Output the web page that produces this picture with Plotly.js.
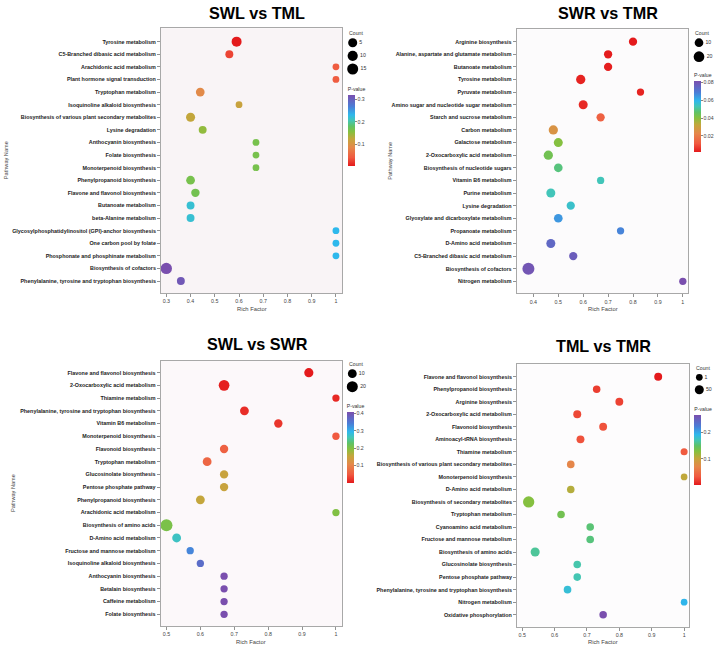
<!DOCTYPE html>
<html>
<head>
<meta charset="utf-8">
<script src="https://cdn.plot.ly/plotly-3.0.1.min.js"></script>
<style>
  html, body { margin: 0; padding: 0; background: #ffffff; }
  #chart { width: 718px; height: 649px; }
</style>
</head>
<body>
<div id="chart"></div>
<script>
// ---------- KEGG enrichment data: four comparisons ----------
const p1Title = 'SWL vs TML';
const p1Pathways = ['Tyrosine metabolism','C5-Branched dibasic acid metabolism','Arachidonic acid metabolism','Plant hormone signal transduction','Tryptophan metabolism','Isoquinoline alkaloid biosynthesis','Biosynthesis of various plant secondary metabolites','Lysine degradation','Anthocyanin biosynthesis','Folate biosynthesis','Monoterpenoid biosynthesis','Phenylpropanoid biosynthesis','Flavone and flavonol biosynthesis','Butanoate metabolism','beta-Alanine metabolism','Glycosylphosphatidylinositol (GPI)-anchor biosynthesis','One carbon pool by folate','Phosphonate and phosphinate metabolism','Biosynthesis of cofactors','Phenylalanine, tyrosine and tryptophan biosynthesis'];
const p1RichFactor = [0.59,0.56,1,1,0.44,0.60,0.40,0.45,0.67,0.67,0.67,0.40,0.42,0.40,0.40,1,1,1,0.30,0.36];
const p1Count = [9,2,1,1,4,1,5,2,1,1,1,4,3,2,2,1,1,1,17,2];
const p1PValue = [0.005,0.03,0.045,0.045,0.09,0.12,0.125,0.15,0.165,0.165,0.165,0.165,0.168,0.22,0.22,0.232,0.232,0.232,0.32,0.31];
const p1CountBreaks = [5,10,15];
const p1PTicks = [0.1,0.2,0.3];

const p2Title = 'SWR vs TMR';
const p2Pathways = ['Arginine biosynthesis','Alanine, aspartate and glutamate metabolism','Butanoate metabolism','Tyrosine metabolism','Pyruvate metabolism','Amino sugar and nucleotide sugar metabolism','Starch and sucrose metabolism','Carbon metabolism','Galactose metabolism','2-Oxocarboxylic acid metabolism','Biosynthesis of nucleotide sugars','Vitamin B6 metabolism','Purine metabolism','Lysine degradation','Glyoxylate and dicarboxylate metabolism','Propanoate metabolism','D-Amino acid metabolism','C5-Branched dibasic acid metabolism','Biosynthesis of cofactors','Nitrogen metabolism'];
const p2RichFactor = [0.80,0.70,0.70,0.59,0.83,0.60,0.67,0.48,0.50,0.46,0.50,0.67,0.47,0.55,0.50,0.75,0.47,0.56,0.38,1];
const p2Count = [9,9,9,12,8,11,9,12,11,12,10,8,11,9,10,8,11,9,31,8];
const p2PValue = [0.0017,0.002,0.0025,0.003,0.003,0.004,0.013,0.026,0.040,0.043,0.048,0.053,0.053,0.055,0.064,0.067,0.074,0.077,0.079,0.081];
const p2CountBreaks = [10,20];
const p2PTicks = [0.02,0.04,0.06,0.08];

const p3Title = 'SWL vs SWR';
const p3Pathways = ['Flavone and flavonol biosynthesis','2-Oxocarboxylic acid metabolism','Thiamine metabolism','Phenylalanine, tyrosine and tryptophan biosynthesis','Vitamin B6 metabolism','Monoterpenoid biosynthesis','Flavonoid biosynthesis','Tryptophan metabolism','Glucosinolate biosynthesis','Pentose phosphate pathway','Phenylpropanoid biosynthesis','Arachidonic acid metabolism','Biosynthesis of amino acids','D-Amino acid metabolism','Fructose and mannose metabolism','Isoquinoline alkaloid biosynthesis','Anthocyanin biosynthesis','Betalain biosynthesis','Caffeine metabolism','Folate biosynthesis'];
const p3RichFactor = [0.92,0.67,1,0.73,0.83,1,0.67,0.62,0.67,0.67,0.60,1,0.50,0.53,0.57,0.60,0.67,0.67,0.67,0.67];
const p3Count = [11,18,8,10,9,8,9,10,9,9,10,8,27,10,8,8,8,8,8,8];
const p3PValue = [0.0005,0.004,0.012,0.015,0.022,0.05,0.058,0.065,0.15,0.15,0.155,0.2,0.205,0.27,0.335,0.365,0.408,0.408,0.408,0.408];
const p3CountBreaks = [10,20];
const p3PTicks = [0.1,0.2,0.3,0.4];

const p4Title = 'TML vs TMR';
const p4Pathways = ['Flavone and flavonol biosynthesis','Phenylpropanoid biosynthesis','Arginine biosynthesis','2-Oxocarboxylic acid metabolism','Flavonoid biosynthesis','Aminoacyl-tRNA biosynthesis','Thiamine metabolism','Biosynthesis of various plant secondary metabolites','Monoterpenoid biosynthesis','D-Amino acid metabolism','Biosynthesis of secondary metabolites','Tryptophan metabolism','Cyanoamino acid metabolism','Fructose and mannose metabolism','Biosynthesis of amino acids','Glucosinolate biosynthesis','Pentose phosphate pathway','Phenylalanine, tyrosine and tryptophan biosynthesis','Nitrogen metabolism','Oxidative phosphorylation'];
const p4RichFactor = [0.92,0.73,0.80,0.67,0.75,0.68,1,0.65,1,0.65,0.52,0.62,0.71,0.71,0.54,0.67,0.67,0.64,1,0.75];
const p4Count = [16,8,14,16,14,15,3,10,2,9,190,9,9,10,52,9,9,10,2,8];
const p4PValue = [0.002,0.02,0.022,0.025,0.03,0.03,0.035,0.07,0.105,0.11,0.13,0.14,0.155,0.157,0.165,0.17,0.172,0.185,0.195,0.268];
const p4CountBreaks = [1,50];
const p4PTicks = [0.1,0.2];

// ---------- styling ----------
const W = 718, H = 649;
const FONT = 'Liberation Sans, Arial, Helvetica, sans-serif';
const pScale = [
  [0.00,'#e41a1c'],
  [0.12,'#f05a40'],
  [0.26,'#e5874a'],
  [0.38,'#c4a63c'],
  [0.48,'#86c03f'],
  [0.56,'#5fc266'],
  [0.64,'#44c6b4'],
  [0.72,'#2eb8ec'],
  [0.84,'#4b7cd6'],
  [1.00,'#7a4fae']
];
const fx = px => px / W;
const fy = py => 1 - py / H;

// panel geometry in pixels
const panels = [
  {title:p1Title, names:p1Pathways, rich:p1RichFactor, count:p1Count, p:p1PValue, breaks:p1CountBreaks, pticks:p1PTicks,
   box:[161,28.3,342,293], xr:[0.278,1.025], dtick:0.1, pad:[1.06,0.95], d:[6.8,11.3], bg:'#f9f4f6',
   titleXY:[256.5,12.5], xTitleY:309, yTitleX:5.5,
   countXY:[347.3,33], legX:352.7, legRows:[42.7,69.0],
   cbX:347.7, cbTitleY:87.7, cbBottom:165.7},
  {title:p2Title, names:p2Pathways, rich:p2RichFactor, count:p2Count, p:p2PValue, breaks:p2CountBreaks, pticks:p2PTicks,
   box:[516.7,29.3,688.3,293.3], xr:[0.333,1.022], dtick:0.1, pad:[0.98,0.95], d:[7.3,12.0], bg:'#fcfbfc',
   titleXY:[607.5,12.5], xTitleY:309, yTitleX:390.5,
   countXY:[693.3,33.3], legX:699, legRows:[42.7,56.7],
   cbX:694, cbTitleY:74.3, cbBottom:152.7},
  {title:p3Title, names:p3Pathways, rich:p3RichFactor, count:p3Count, p:p3PValue, breaks:p3CountBreaks, pticks:p3PTicks,
   box:[160.7,360.7,341.7,626], xr:[0.483,1.017], dtick:0.1, pad:[0.94,0.92], d:[7.3,12.0], bg:'#fcf8fa',
   titleXY:[257,344], xTitleY:642.3, yTitleX:13.7,
   countXY:[346.7,364.3], legX:352.3, legRows:[373.7,386.7],
   cbX:346.7, cbTitleY:405, cbBottom:483.3},
  {title:p4Title, names:p4Pathways, rich:p4RichFactor, count:p4Count, p:p4PValue, breaks:p4CountBreaks, pticks:p4PTicks,
   box:[517,364.3,689.3,626.7], xr:[0.484,1.016], dtick:0.1, pad:[0.99,0.96], d:[6.7,11.3], bg:'#fdfcfd',
   titleXY:[603.3,345.8], xTitleY:642.3, yTitleX:null,
   countXY:[694.3,368.3], legX:699.3, legRows:[377.3,389.7],
   cbX:694.3, cbTitleY:407.7, cbBottom:485}
];

const traces = [];
const layout = {
  width: W, height: H,
  margin: {l:0, r:0, t:0, b:0},
  paper_bgcolor: '#ffffff',
  plot_bgcolor: 'rgba(0,0,0,0)',
  showlegend: false,
  font: {family: FONT, color: '#333'},
  annotations: [],
  shapes: []
};

panels.forEach((P, i) => {
  const k = i + 1, kl = i + 5;
  const xs = k === 1 ? '' : String(k);
  const cMin = Math.min(...P.count), cMax = Math.max(...P.count);
  const sizeOf = c => {
    const t = Math.max(0, Math.min(1, (c - cMin) / (cMax - cMin)));
    return P.d[0] + (P.d[1] - P.d[0]) * Math.sqrt(t);
  };
  const n = P.names.length;
  const [bx0, by0, bx1, by1] = P.box;

  layout['xaxis' + xs] = {
    domain: [fx(bx0), fx(bx1)], anchor: 'y' + xs, range: P.xr,
    tick0: 0, dtick: P.dtick, ticks: 'outside', ticklen: 3, tickwidth: 0.8, tickcolor: '#777',
    tickfont: {family: FONT, size: 5.3, color: '#444'},
    showline: true, mirror: true, linecolor: '#a8a8a8', linewidth: 1,
    showgrid: false, zeroline: false, fixedrange: true
  };
  layout['yaxis' + xs] = {
    domain: [fy(by1), fy(by0)], anchor: 'x' + xs, type: 'category',
    categoryorder: 'array', categoryarray: P.names,
    range: [n - 1 + P.pad[1], -P.pad[0]],
    ticks: 'outside', ticklen: 3, tickwidth: 0.8, tickcolor: '#777',
    tickfont: {family: FONT, size: 5.4, color: '#222', weight: 'bold'},
    showline: true, mirror: true, linecolor: '#a8a8a8', linewidth: 1,
    showgrid: false, zeroline: false, fixedrange: true
  };

  layout.shapes.push({type:'rect', xref:'x' + xs + ' domain', yref:'y' + xs + ' domain',
    x0:0, x1:1, y0:0, y1:1, fillcolor:P.bg, line:{width:0}, layer:'below'});

  const cbTop = P.cbTitleY - 4;
  traces.push({
    type: 'scatter', mode: 'markers',
    x: P.rich, y: P.names, xaxis: 'x' + xs, yaxis: 'y' + xs,
    hoverinfo: 'skip', cliponaxis: false,
    marker: {
      size: P.count.map(sizeOf), color: P.p, colorscale: pScale,
      cmin: Math.min(...P.p), cmax: Math.max(...P.p), opacity: 1, line: {width: 0},
      showscale: true,
      colorbar: {
        x: fx(P.cbX), xanchor: 'left', y: fy(cbTop), yanchor: 'top',
        len: P.cbBottom - cbTop, lenmode: 'pixels', thickness: 6.5, thicknessmode: 'pixels',
        outlinewidth: 0, xpad: 0, ypad: 0,
        tickvals: P.pticks, ticks: 'outside', ticklen: 2, tickwidth: 0.8, tickcolor: '#666',
        tickfont: {family: FONT, size: 5.2, color: '#444'},
        title: {text: 'P-value', side: 'top', font: {family: FONT, size: 5.2, color: '#333'}}
      }
    }
  });

  // size key (Count)
  const nb = P.breaks.length;
  const step = nb > 1 ? (P.legRows[1] - P.legRows[0]) / (nb - 1) : 13;
  const legTop = P.legRows[0] - step / 2, legBot = P.legRows[1] + step / 2;
  layout['xaxis' + kl] = {domain: [fx(P.legX - 10), fx(P.legX + 10)], range: [-1, 1], visible: false, fixedrange: true, anchor: 'y' + kl};
  layout['yaxis' + kl] = {domain: [fy(legBot), fy(legTop)], range: [nb - 0.5, -0.5], visible: false, fixedrange: true, anchor: 'x' + kl};
  traces.push({
    type: 'scatter', mode: 'markers+text',
    x: P.breaks.map(() => 0), y: P.breaks.map((b, j) => j),
    xaxis: 'x' + kl, yaxis: 'y' + kl, hoverinfo: 'skip', cliponaxis: false,
    text: P.breaks.map(String), textposition: 'middle right',
    textfont: {family: FONT, size: 5.2, color: '#333'},
    marker: {size: P.breaks.map(sizeOf), color: '#000000', opacity: 1, line: {width: 0}}
  });

  // titles and captions
  layout.annotations.push({text: P.title, xref: 'paper', yref: 'paper',
    x: fx(P.titleXY[0]), y: fy(P.titleXY[1]), xanchor: 'center', yanchor: 'middle', showarrow: false,
    font: {family: FONT, size: 16.2, color: '#000', weight: 'bold'}});
  layout.annotations.push({text: 'Rich Factor', xref: 'paper', yref: 'paper',
    x: fx((bx0 + bx1) / 2), y: fy(P.xTitleY), xanchor: 'center', yanchor: 'middle', showarrow: false,
    font: {family: FONT, size: 5.8, color: '#444'}});
  if (P.yTitleX !== null) {
    layout.annotations.push({text: 'Pathway Name', xref: 'paper', yref: 'paper',
      x: fx(P.yTitleX), y: fy((by0 + by1) / 2), xanchor: 'center', yanchor: 'middle', showarrow: false,
      textangle: -90, font: {family: FONT, size: 5.6, color: '#444'}});
  }
  layout.annotations.push({text: 'Count', xref: 'paper', yref: 'paper',
    x: fx(P.countXY[0]), y: fy(P.countXY[1]), xanchor: 'left', yanchor: 'middle', showarrow: false,
    font: {family: FONT, size: 5.2, color: '#333'}});
});

Plotly.newPlot('chart', traces, layout, {staticPlot: true, displayModeBar: false});
</script>
</body>
</html>
